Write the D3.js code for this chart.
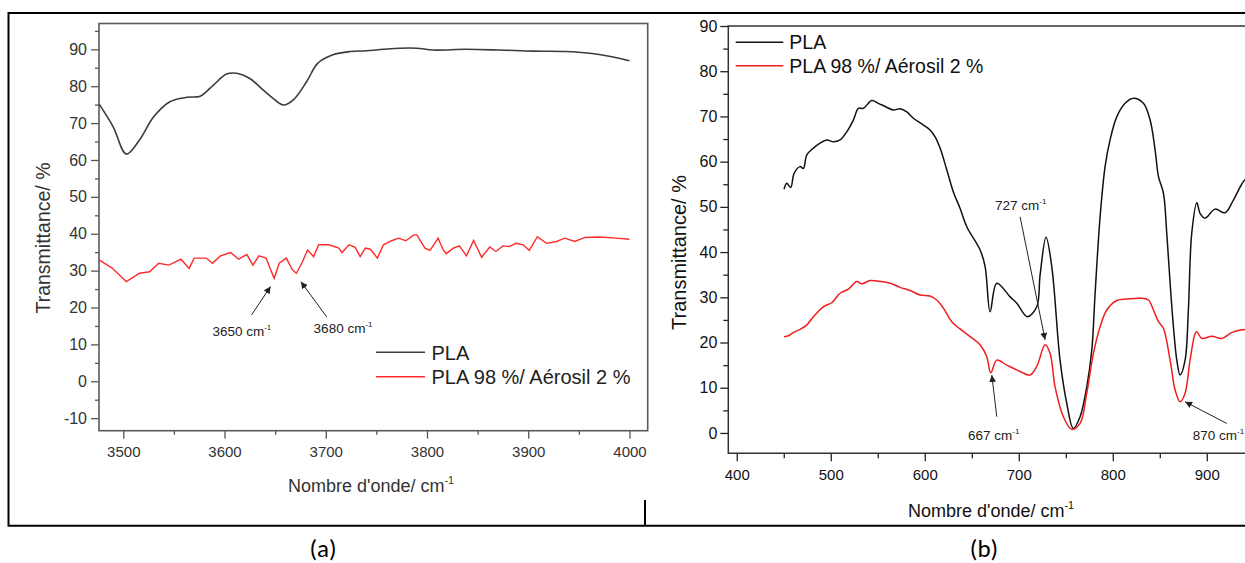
<!DOCTYPE html>
<html>
<head>
<meta charset="utf-8">
<script src="https://cdn.jsdelivr.net/npm/d3@7"></script>
<style>
  body { margin: 0; background: #fff; }
  svg { display: block; font-family: "Liberation Sans", Arial, sans-serif; }
</style>
</head>
<body>
<svg id="chart" width="1245" height="563"></svg>
<script>
// ---- panel (a) data : [wavenumber, transmittance]
var plaA = [[3476,75.2],[3490,69.0],[3503,61.6],[3516,65.4],[3530,71.7],[3546,75.8],[3563,77.0],
  [3576,77.3],[3589,80.3],[3602,83.3],[3612,83.5],[3625,82.1],[3638,79.0],[3648,76.7],[3658,74.9],
  [3668,76.3],[3681,81.2],[3692,86.2],[3707,88.5],[3724,89.4],[3740,89.6],[3757,90.0],[3773,90.3],
  [3790,90.3],[3806,89.8],[3839,90.0],[3872,89.8],[3905,89.5],[3938,89.4],[3970,88.6],[4000,86.9]];
var aerosilA = [[3476,32.9],[3489,30.7],[3503,27.0],[3516,29.3],[3526,29.7],[3535,32.0],[3545,31.5],
  [3557,33.1],[3565,30.6],[3570,33.4],[3582,33.4],[3588,32.0],[3596,34.0],[3606,34.9],[3614,33.1],
  [3622,34.4],[3628,31.5],[3634,34.0],[3641,33.4],[3649,27.9],[3654,32.0],[3661,33.4],[3667,30.2],
  [3671,29.3],[3677,32.4],[3682,35.6],[3688,33.8],[3693,37.0],[3703,37.0],[3713,36.1],[3716,34.9],
  [3723,37.0],[3729,36.3],[3734,33.8],[3739,36.1],[3744,35.8],[3751,33.4],[3757,37.0],[3765,38.1],
  [3772,38.8],[3779,38.1],[3787,39.7],[3790,39.7],[3798,36.1],[3803,35.5],[3811,38.8],[3816,35.6],
  [3819,34.6],[3826,36.1],[3832,36.7],[3839,34.0],[3846,38.2],[3854,33.6],[3862,36.4],[3868,35.2],
  [3875,36.7],[3881,36.5],[3888,37.4],[3895,37.0],[3901,35.5],[3909,39.2],[3918,37.4],[3928,37.9],
  [3936,38.8],[3946,37.9],[3956,39.0],[3970,39.1],[3987,38.8],[4000,38.5]];
var aXTicks = [3500, 3600, 3700, 3800, 3900, 4000];
var aXMinor = [3550, 3650, 3750, 3850, 3950];
var aYTicks = [-10, 0, 10, 20, 30, 40, 50, 60, 70, 80, 90];
var aYMinor = [-5, 5, 15, 25, 35, 45, 55, 65, 75, 85, 95];
// annotations: label, text pos, arrow tail, arrow tip
var aNotes = [
  { label: "3650 cm", at: [3588, 12.2], from: [3626.7, 18.0], to: [3645.5, 25.7] },
  { label: "3680 cm", at: [3688, 13.0], from: [3700.8, 17.5], to: [3675.4, 27.0] }
];

// ---- panel (b) data
var plaB = [[450.3,53.9],[453.2,55.2],[457.4,54.3],[461,57.4],[467.3,58.9],[470.9,58.5],[474.5,61.5],
  [481.5,63.0],[488.6,64.1],[495.7,64.8],[502.8,64.4],[509.9,64.8],[517,66.6],[524,69.2],[529.4,71.8],
  [534.7,71.8],[543.6,73.5],[550.6,72.9],[557.8,72.2],[566.6,71.4],[573.7,71.7],[580.9,71.0],
  [587.9,69.6],[598.5,68.1],[605.6,67.0],[611,65.5],[616.3,63.0],[623.4,58.2],[630.4,53.3],
  [637.5,49.7],[644.7,45.6],[658.8,40.5],[664.2,36.8],[669.5,26.8],[676.6,33.1],[690.8,30.1],
  [697.9,28.7],[709.2,25.7],[719.1,27.9],[722.7,35.0],[729,43.3],[735.1,36.8],[743.9,16.1],
  [751,6.6],[758,1.0],[765.2,3.6],[772.3,10.2],[777.7,18.4],[781.2,30.9],[786.5,47.8],[791.8,58.9],
  [797.1,64.8],[804.2,69.9],[813.1,72.9],[822,74.0],[832.6,72.9],[839.7,69.2],[845,62.6],
  [848.6,56.7],[853.9,53.0],[857.4,44.2],[861,33.1],[864.5,23.5],[868.1,16.1],[871.6,12.8],
  [876.9,16.1],[880.4,27.2],[884,44.2],[889.4,50.9],[893,48.5],[898.2,47.5],[908.8,49.5],
  [919.5,48.7],[928.3,51.5],[939,55.6],[946,57.0]];
var aerosilB = [[450.3,21.3],[454.9,21.5],[460.2,22.2],[467.3,22.9],[474.5,23.9],[481.5,25.7],
  [492.1,27.9],[501,28.8],[509.9,30.9],[518.7,31.8],[527.7,33.5],[533,33.0],[541.8,33.7],
  [552.4,33.5],[563.1,33.1],[573.7,32.2],[584.4,31.5],[595,30.5],[605.6,30.3],[612.8,29.4],
  [619.8,27.6],[628.7,24.6],[637.5,23.0],[648.2,21.3],[658.8,19.5],[665.9,16.9],[670.2,13.3],
  [676.6,16.1],[687.2,15.0],[701.4,13.6],[712,12.8],[719.1,14.7],[728,19.5],[733.3,17.6],
  [738.6,10.2],[747.4,3.6],[756.4,0.8],[765.2,2.1],[772.3,8.8],[779.4,17.6],[786.5,23.5],
  [793.6,27.2],[804.2,29.3],[814.9,29.6],[829,29.8],[837.9,29.4],[843.2,27.2],[848.6,24.6],
  [853.9,23.1],[861,16.1],[866.3,9.5],[871.6,6.9],[876.9,8.8],[882.2,16.1],[887.6,22.0],
  [889.4,22.4],[894.7,20.9],[905.3,21.4],[915.9,20.9],[926.5,22.2],[937.1,22.8],[946,23.0]];
var bXTicks = [400, 500, 600, 700, 800, 900];
var bXMinor = [450, 550, 650, 750, 850];
var bYTicks = [0, 10, 20, 30, 40, 50, 60, 70, 80, 90];
var bYMinor = [5, 15, 25, 35, 45, 55, 65, 75, 85];
var bNotes = [
  { label: "727 cm", at: [674.8, 49.4], from: [701.4, 47.8], to: [728, 20.6] },
  { label: "667 cm", at: [646, -1.5], from: [676.6, 3.6], to: [671.3, 12.8] },
  { label: "870 cm", at: [885, -1.5], from: [921.3, 2.1], to: [876.9, 6.9] }
];

var legendNames = ["PLA", "PLA 98 %/ Aérosil 2 %"];

var svg = d3.select("#chart");

// arrow heads
var defs = svg.append("defs");
defs.append("marker")
  .attr("id", "head")
  .attr("viewBox", "0 0 10 10")
  .attr("refX", 10).attr("refY", 5)
  .attr("markerWidth", 7).attr("markerHeight", 7)
  .attr("markerUnits", "userSpaceOnUse")
  .attr("orient", "auto")
  .append("path").attr("d", "M0,0L10,5L0,10z").attr("fill", "#222");

// outer table frame
svg.append("path")
  .attr("d", "M1250,13H8.5V525.7H1250M645,500V526")
  .attr("fill", "none").attr("stroke", "#000").attr("stroke-width", 2);

// helper: text with a "-1" superscript
function cmText(g, x, y, base, size, color) {
  var t = g.append("text").attr("x", x).attr("y", y)
    .attr("font-size", size).attr("fill", color);
  t.append("tspan").text(base);
  t.append("tspan").attr("dy", -size * 0.45).attr("font-size", size * 0.6).text("-1");
  return t;
}

function drawAxes(g, x, y, cfg) {
  var bottom = y.range()[0];
  var left = x.range()[0];
  var fmt = function (d) { return String(d); };
  var xa = g.append("g").attr("transform", "translate(0," + bottom + ")")
    .call(d3.axisBottom(x).tickValues(cfg.xTicks).tickSize(cfg.major).tickPadding(cfg.xPad).tickFormat(fmt));
  var xm = g.append("g").attr("transform", "translate(0," + bottom + ")")
    .call(d3.axisBottom(x).tickValues(cfg.xMinor).tickSize(cfg.minor).tickFormat(""));
  var ya = g.append("g").attr("transform", "translate(" + left + ",0)")
    .call(d3.axisLeft(y).tickValues(cfg.yTicks).tickSize(cfg.major).tickPadding(cfg.yPad).tickFormat(fmt));
  var ym = g.append("g").attr("transform", "translate(" + left + ",0)")
    .call(d3.axisLeft(y).tickValues(cfg.yMinor).tickSize(cfg.minor).tickFormat(""));
  [xa, xm, ya, ym].forEach(function (a) {
    a.select(".domain").remove();
    a.selectAll(".tick line").attr("stroke", cfg.axisColor).attr("stroke-width", 1.3);
    a.selectAll(".tick text").attr("fill", cfg.textColor)
      .style("font-family", '"Liberation Sans", Arial, sans-serif');
  });
  xa.selectAll(".tick text").attr("font-size", cfg.xFont);
  ya.selectAll(".tick text").attr("font-size", cfg.yFont);
}

function drawNotes(g, x, y, notes) {
  notes.forEach(function (n) {
    g.append("line")
      .attr("x1", x(n.from[0])).attr("y1", y(n.from[1]))
      .attr("x2", x(n.to[0])).attr("y2", y(n.to[1]))
      .attr("stroke", "#222").attr("stroke-width", 1)
      .attr("marker-end", "url(#head)");
    cmText(g, x(n.at[0]), y(n.at[1]), n.label, 13.5, "#222");
  });
}

// ================= panel (a)
var xA = d3.scaleLinear().domain([3476, 4018]).range([99, 647.7]);
var yA = d3.scaleLinear().domain([-13.4, 97]).range([430.7, 23.5]);
var gA = svg.append("g");

drawAxes(gA, xA, yA, {
  xTicks: aXTicks, xMinor: aXMinor, yTicks: aYTicks, yMinor: aYMinor,
  major: 8, minor: 4, xPad: 8, yPad: 4, axisColor: "#555", textColor: "#333",
  xFont: 15, yFont: 16
});

gA.append("rect")
  .attr("x", 99).attr("y", 23.5).attr("width", 548.7).attr("height", 407.2)
  .attr("fill", "none").attr("stroke", "#5a5a5a").attr("stroke-width", 1.6);

var lineA = d3.line().x(function (d) { return xA(d[0]); }).y(function (d) { return yA(d[1]); });
gA.append("path").datum(plaA)
  .attr("d", lineA.curve(d3.curveCatmullRom.alpha(0.5)))
  .attr("fill", "none").attr("stroke", "#3c3c3c").attr("stroke-width", 1.6);
gA.append("path").datum(aerosilA)
  .attr("d", lineA.curve(d3.curveLinear))
  .attr("fill", "none").attr("stroke", "#ff2a2a").attr("stroke-width", 1.4);

drawNotes(gA, xA, yA, aNotes);

// legend (a)
var legColorsA = ["#3c3c3c", "#ff2a2a"];
legendNames.forEach(function (name, i) {
  var ly = 352.3 + i * 24.4;
  gA.append("line").attr("x1", 376).attr("x2", 425).attr("y1", ly).attr("y2", ly)
    .attr("stroke", legColorsA[i]).attr("stroke-width", 1.5);
  gA.append("text").attr("x", 431.5).attr("y", ly).attr("dy", "0.36em")
    .attr("font-size", 20).attr("fill", "#222").text(name);
});

cmText(gA, 288, 492.3, "Nombre d'onde/ cm", 18, "#333");
gA.append("text")
  .attr("transform", "translate(50,238) rotate(-90)")
  .attr("text-anchor", "middle").attr("font-size", 19.5).attr("fill", "#333")
  .text("Transmittance/ %");

// ================= panel (b)
var xB = d3.scaleLinear().domain([391, 1000]).range([728.3, 1300.8]);
var yB = d3.scaleLinear().domain([-4.5, 90]).range([453.3, 26]);
var gB = svg.append("g");

drawAxes(gB, xB, yB, {
  xTicks: bXTicks, xMinor: bXMinor, yTicks: bYTicks, yMinor: bYMinor,
  major: 8, minor: 5, xPad: 8, yPad: 3, axisColor: "#222", textColor: "#111",
  xFont: 15, yFont: 16
});

gB.append("path")
  .attr("d", "M1250,26H728.3V453.3H1250")
  .attr("fill", "none").attr("stroke", "#333").attr("stroke-width", 1.5);

var lineB = d3.line().x(function (d) { return xB(d[0]); }).y(function (d) { return yB(d[1]); })
  .curve(d3.curveCatmullRom.alpha(0.5));
gB.append("path").datum(plaB).attr("d", lineB)
  .attr("fill", "none").attr("stroke", "#111").attr("stroke-width", 1.5);
gB.append("path").datum(aerosilB).attr("d", lineB)
  .attr("fill", "none").attr("stroke", "#f01e1e").attr("stroke-width", 1.5);

drawNotes(gB, xB, yB, bNotes);

var legColorsB = ["#111", "#f01e1e"];
legendNames.forEach(function (name, i) {
  var ly = 42.3 + i * 23.4;
  gB.append("line").attr("x1", 735.7).attr("x2", 783.3).attr("y1", ly).attr("y2", ly)
    .attr("stroke", legColorsB[i]).attr("stroke-width", 1.5);
  gB.append("text").attr("x", 789.3).attr("y", ly).attr("dy", "0.36em")
    .attr("font-size", 19.5).attr("fill", "#111").text(name);
});

cmText(gB, 908, 516.7, "Nombre d'onde/ cm", 18, "#111");
gB.append("text")
  .attr("transform", "translate(686,252.5) rotate(-90)")
  .attr("text-anchor", "middle").attr("font-size", 20).attr("fill", "#111")
  .text("Transmittance/ %");

// captions
var caps = [["(a)", 323], ["(b)", 984]];
caps.forEach(function (c) {
  svg.append("text").attr("x", c[1]).attr("y", 557)
    .attr("text-anchor", "middle").attr("font-size", 25)
    .style("font-family", "Carlito, Calibri, Lato, sans-serif")
    .attr("fill", "#000").text(c[0]);
});
</script>
</body>
</html>
